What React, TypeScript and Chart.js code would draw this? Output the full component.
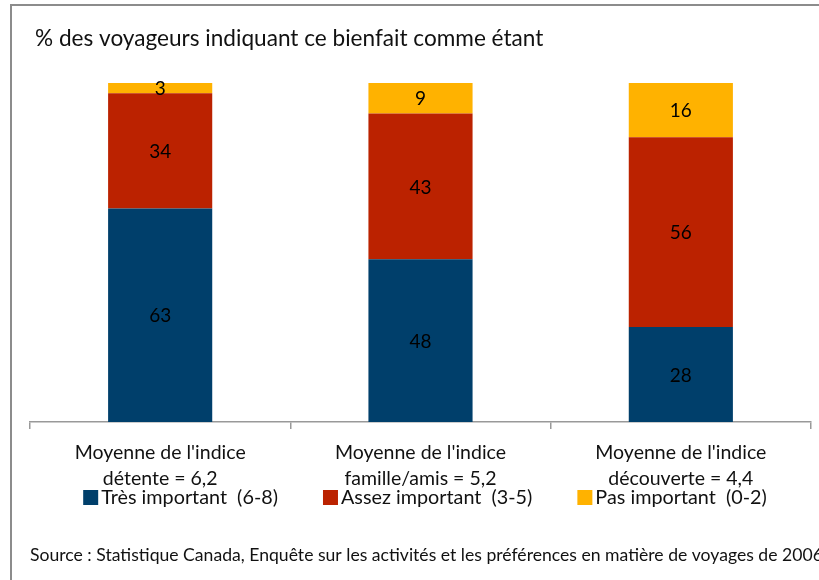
import React, { useEffect, useRef } from "react";
import { Chart, registerables } from "chart.js";

Chart.register(...registerables);

const categories: string[][] = [
  ["Moyenne de l'indice", "détente = 6,2"],
  ["Moyenne de l'indice", "famille/amis = 5,2"],
  ["Moyenne de l'indice", "découverte = 4,4"],
];
const tresImportant = [63, 48, 28];
const assezImportant = [34, 43, 56];
const pasImportant = [3, 9, 16];
const seriesLabels = ["Très important  (6-8)", "Assez important  (3-5)", "Pas important  (0-2)"];
const seriesColors = ["#003f6b", "#bb2200", "#ffb200"];
const titleText = "% des voyageurs indiquant ce bienfait comme étant";
const sourceText =
  "Source : Statistique Canada, Enquête sur les activités et les préférences en matière de voyages de 2006";

const FONT = "Lato, 'Open Sans', sans-serif";

const decorPlugin = {
  id: "decor",
  beforeDraw(chart: any) {
    const ctx = chart.ctx;
    ctx.save();
    ctx.fillStyle = "#ffffff";
    ctx.fillRect(0, 0, chart.width, chart.height);
    ctx.strokeStyle = "#8c8c8c";
    ctx.lineWidth = 2;
    ctx.strokeRect(11, 5, 900, 700);
    ctx.restore();
  },
  afterDatasetsDraw(chart: any) {
    const ctx = chart.ctx;
    ctx.save();
    ctx.fillStyle = "#000000";
    ctx.font = `19px ${FONT}`;
    ctx.textAlign = "center";
    ctx.textBaseline = "middle";
    chart.data.datasets.forEach((ds: any, di: number) => {
      const meta = chart.getDatasetMeta(di);
      meta.data.forEach((el: any, i: number) => {
        const v = ds.data[i];
        const y = (el.y + el.base) / 2;
        ctx.fillText(String(v), el.x, y + 1);
      });
    });
    ctx.restore();
  },
  afterDraw(chart: any) {
    const ctx = chart.ctx;
    const area = chart.chartArea;
    ctx.save();
    // title
    ctx.fillStyle = "#111111";
    ctx.font = `22.6px ${FONT}`;
    ctx.textAlign = "left";
    ctx.textBaseline = "middle";
    ctx.fillText(titleText, 35, 39);
    // legend
    ctx.font = `19.8px ${FONT}`;
    const box = 15;
    const textGap = 3;
    const gap = 45;
    const widths = chart.data.datasets.map(
      (ds: any) => box + textGap + ctx.measureText(ds.label).width
    );
    const total = widths.reduce((a: number, b: number) => a + b, 0) + gap * (widths.length - 1);
    let x = (area.left + area.right) / 2 + 4.5 - total / 2;
    const ly = 497.5;
    chart.data.datasets.forEach((ds: any, i: number) => {
      ctx.fillStyle = ds.backgroundColor;
      ctx.fillRect(x, ly - box / 2, box, box);
      ctx.fillStyle = "#111111";
      ctx.fillText(ds.label, x + box + textGap, ly);
      x += widths[i] + gap;
    });
    // source
    ctx.font = `17.6px ${FONT}`;
    ctx.fillStyle = "#111111";
    ctx.fillText(sourceText, 30, 555);
    ctx.restore();
  },
};

export default function App() {
  const ref = useRef<HTMLCanvasElement | null>(null);
  useEffect(() => {
    if (!ref.current) return;
    const chart = new Chart(ref.current, {
      type: "bar",
      data: {
        labels: categories,
        datasets: [
          { label: seriesLabels[0], data: tresImportant, backgroundColor: seriesColors[0] },
          { label: seriesLabels[1], data: assezImportant, backgroundColor: seriesColors[1] },
          { label: seriesLabels[2], data: pasImportant, backgroundColor: seriesColors[2] },
        ],
      },
      options: {
        animation: false,
        responsive: false,
        layout: { padding: { top: 83, left: 30, right: 8, bottom: 78 } },
        datasets: { bar: { categoryPercentage: 1, barPercentage: 0.4 } } as any,
        plugins: {
          legend: { display: false },
          title: { display: false },
          tooltip: { enabled: false },
        },
        scales: {
          x: {
            stacked: true,
            afterFit: (scale: any) => {
              scale.height = 80;
            },
            grid: {
              display: true,
              drawOnChartArea: false,
              drawTicks: true,
              tickLength: 7,
              color: "#999999",
              lineWidth: 1.5,
              offset: true,
            },
            border: { display: true, color: "#999999", width: 1.5 },
            ticks: {
              color: "#111111",
              font: { family: FONT, size: 19.5, lineHeight: 1.33 },
              padding: 11,
              maxRotation: 0,
              autoSkip: false,
            },
          },
          y: {
            stacked: true,
            display: false,
            min: 0,
            max: 100,
          },
        },
      },
      plugins: [decorPlugin],
    });
    return () => chart.destroy();
  }, []);
  return (
    <div style={{ position: "absolute", left: 0, top: 0, width: 819, height: 580 }}>
      <canvas ref={ref} width={819} height={580} style={{ display: "block" }} />
    </div>
  );
}
